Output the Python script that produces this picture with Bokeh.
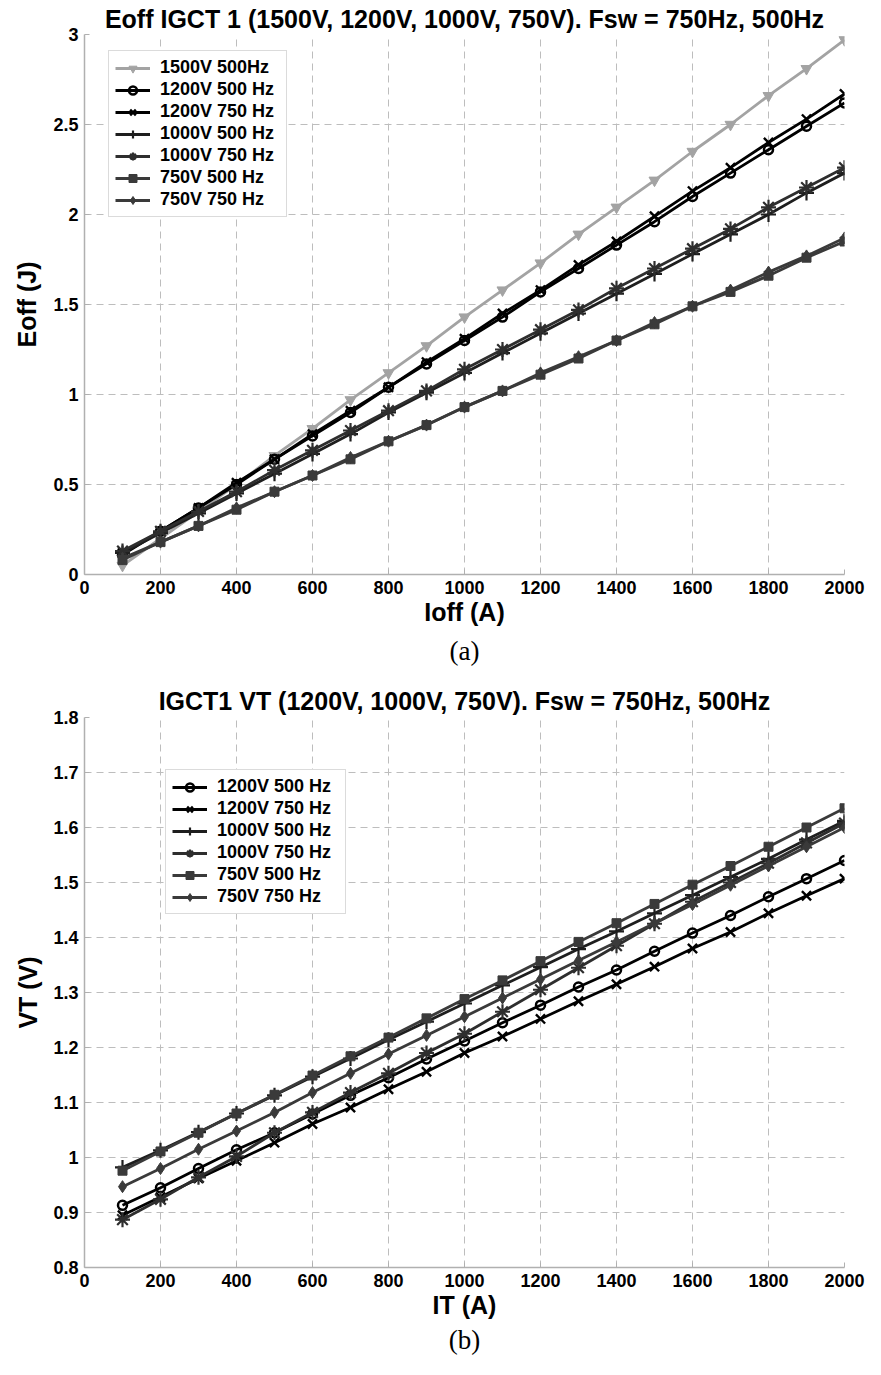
from bokeh.plotting import figure
from bokeh.models import (Range1d, FixedTicker, CustomJSTickFormatter, Legend,
                          LegendItem, Title, ColumnDataSource)
from bokeh.layouts import column
from bokeh.embed import file_html
from bokeh.resources import INLINE

# ---------------- data (a) ----------------
ioff = [100, 200, 300, 400, 500, 600, 700, 800, 900, 1000,
        1100, 1200, 1300, 1400, 1500, 1600, 1700, 1800, 1900, 2000]
eoff_1500_500 = [0.05, 0.20, 0.35, 0.50, 0.66, 0.81, 0.97, 1.12, 1.27, 1.43,
                 1.58, 1.73, 1.89, 2.04, 2.19, 2.35, 2.50, 2.66, 2.81, 2.97]
eoff_1200_500 = [0.11, 0.24, 0.37, 0.50, 0.64, 0.77, 0.90, 1.04, 1.17, 1.30,
                 1.43, 1.57, 1.70, 1.83, 1.96, 2.10, 2.23, 2.36, 2.49, 2.62]
eoff_1200_750 = [0.12, 0.24, 0.37, 0.51, 0.64, 0.78, 0.91, 1.04, 1.18, 1.31,
                 1.45, 1.58, 1.72, 1.85, 1.99, 2.13, 2.26, 2.40, 2.53, 2.67]
eoff_1000_500 = [0.12, 0.23, 0.34, 0.45, 0.56, 0.67, 0.78, 0.90, 1.01, 1.12,
                 1.23, 1.34, 1.45, 1.56, 1.67, 1.78, 1.89, 2.00, 2.12, 2.23]
eoff_1000_750 = [0.13, 0.24, 0.35, 0.46, 0.58, 0.69, 0.80, 0.91, 1.02, 1.14,
                 1.25, 1.36, 1.47, 1.59, 1.70, 1.81, 1.92, 2.04, 2.15, 2.26]
eoff_750_500 = [0.08, 0.18, 0.27, 0.36, 0.46, 0.55, 0.64, 0.74, 0.83, 0.93,
                1.02, 1.11, 1.20, 1.30, 1.39, 1.49, 1.57, 1.66, 1.76, 1.85]
eoff_750_750 = [0.09, 0.18, 0.27, 0.37, 0.46, 0.55, 0.65, 0.74, 0.83, 0.93,
                1.02, 1.12, 1.21, 1.30, 1.40, 1.49, 1.58, 1.68, 1.77, 1.87]

# ---------------- data (b) ----------------
it = ioff
vt_1200_500 = [0.913, 0.945, 0.980, 1.014, 1.045, 1.079, 1.113, 1.145, 1.179, 1.212,
               1.245, 1.277, 1.310, 1.341, 1.375, 1.408, 1.440, 1.474, 1.507, 1.540]
vt_1200_750 = [0.895, 0.928, 0.962, 0.994, 1.027, 1.061, 1.091, 1.124, 1.156, 1.190,
               1.220, 1.252, 1.284, 1.315, 1.347, 1.380, 1.410, 1.444, 1.476, 1.507]
vt_1000_500 = [0.982, 1.013, 1.046, 1.080, 1.113, 1.147, 1.180, 1.214, 1.247, 1.280,
               1.313, 1.346, 1.379, 1.411, 1.444, 1.477, 1.510, 1.543, 1.578, 1.612]
vt_1000_750 = [0.887, 0.924, 0.964, 1.002, 1.045, 1.082, 1.118, 1.153, 1.190, 1.225,
               1.265, 1.305, 1.345, 1.385, 1.425, 1.465, 1.500, 1.535, 1.572, 1.608]
vt_750_500 = [0.976, 1.011, 1.045, 1.080, 1.114, 1.149, 1.184, 1.218, 1.253, 1.288,
              1.322, 1.357, 1.392, 1.426, 1.461, 1.496, 1.530, 1.565, 1.600, 1.635]
vt_750_750 = [0.947, 0.980, 1.015, 1.048, 1.082, 1.118, 1.153, 1.188, 1.222, 1.256,
              1.290, 1.324, 1.358, 1.392, 1.426, 1.460, 1.495, 1.530, 1.565, 1.600]

x_ticks = [0, 200, 400, 600, 800, 1000, 1200, 1400, 1600, 1800, 2000]
ya_ticks = [0, 0.5, 1, 1.5, 2, 2.5, 3]
yb_ticks = [0.8, 0.9, 1.0, 1.1, 1.2, 1.3, 1.4, 1.5, 1.6, 1.7, 1.8]

FONT = "Liberation Sans"
GRID = "#bdbdbd"
AXIS = "#b0b0b0"

# series styles: (label, marker, color, size, marker line width, filled)
STY = {
    "1500_500": ("1500V 500Hz", "inverted_triangle", "#a3a3a3", 11, 1, True),
    "1200_500": ("1200V 500 Hz", "circle", "#000000", 9, 2.5, False),
    "1200_750": ("1200V 750 Hz", "x", "#000000", 13, 2.4, False),
    "1000_500": ("1000V 500 Hz", "cross", "#1e1e1e", 15, 2.2, False),
    "1000_750": ("1000V 750 Hz", "asterisk", "#2e2e2e", 15, 2.2, False),
    "750_500": ("750V 500 Hz", "square", "#3a3a3a", 9, 1, True),
    "750_750": ("750V 750 Hz", "diamond", "#3a3a3a", 12, 1, True),
}


def style_fig(p, xlabel, ylabel, yticks, fmt_code, ylab_standoff):
    p.title.text_font = FONT
    p.title.text_font_style = "bold"
    p.title.text_font_size = "25px"
    p.title.align = "center"
    p.title.text_color = "black"
    p.xaxis.axis_label = xlabel
    p.yaxis.axis_label = ylabel
    p.xaxis.ticker = FixedTicker(ticks=x_ticks)
    p.yaxis.ticker = FixedTicker(ticks=yticks)
    p.xgrid.ticker = FixedTicker(ticks=x_ticks)
    p.ygrid.ticker = FixedTicker(ticks=yticks)
    p.xaxis.formatter = CustomJSTickFormatter(code="return String(Math.round(tick));")
    p.yaxis.formatter = CustomJSTickFormatter(code=fmt_code)
    for ax in (p.xaxis[0], p.yaxis[0]):
        ax.axis_line_color = AXIS
        ax.axis_line_width = 1.5
        ax.major_tick_in = 5
        ax.major_tick_out = 0
        ax.major_tick_line_color = AXIS
        ax.minor_tick_line_color = None
        ax.major_label_text_font = FONT
        ax.major_label_text_font_style = "bold"
        ax.major_label_text_font_size = "18px"
        ax.major_label_text_color = "black"
        ax.major_label_standoff = 6
        ax.axis_label_text_font = FONT
        ax.axis_label_text_font_style = "bold"
        ax.axis_label_text_font_size = "25px"
        ax.axis_label_text_color = "black"
    p.xaxis.axis_label_standoff = 1
    p.yaxis.axis_label_standoff = ylab_standoff
    for g in (p.xgrid[0], p.ygrid[0]):
        g.grid_line_color = GRID
        g.grid_line_dash = "7 5"
        g.grid_line_width = 1


def add_series(p, x, y, key):
    label, marker, color, size, mlw, filled = STY[key]
    src = ColumnDataSource(dict(x=x, y=y))
    r1 = p.line("x", "y", source=src, line_color=color, line_width=2.8)
    r2 = p.scatter("x", "y", source=src, marker=marker, size=size,
                   line_color=color, line_width=mlw,
                   fill_color=color if filled else None,
                   fill_alpha=1.0 if filled else 0.0)
    return LegendItem(label=label, renderers=[r1, r2])


def make_legend(items, loc, label_width):
    lg = Legend(items=items, location=loc)
    lg.label_text_font = FONT
    lg.label_text_font_style = "bold"
    lg.label_text_font_size = "18px"
    lg.label_text_color = "black"
    lg.glyph_width = 35
    lg.glyph_height = 20
    lg.label_height = 20
    lg.label_width = label_width
    lg.label_standoff = 10
    lg.spacing = 1
    lg.padding = 6
    lg.margin = 0
    lg.border_line_color = "#b8b8b8"
    lg.border_line_width = 1
    lg.background_fill_color = "white"
    lg.background_fill_alpha = 1.0
    return lg


def caption(text, standoff):
    return Title(text=text, align="center", text_font="Liberation Serif",
                 text_font_style="normal", text_font_size="27px",
                 text_color="black", standoff=standoff)


# ---------------- figure (a) ----------------
pa = figure(width=865, height=682, x_range=Range1d(0, 2000), y_range=Range1d(0, 3),
            output_backend="svg", toolbar_location=None,
            min_border_left=84, min_border_right=21, min_border_top=33,
            min_border_bottom=108, outline_line_color=None,
            title="Eoff IGCT 1 (1500V, 1200V, 1000V, 750V). Fsw = 750Hz, 500Hz")
pa.title.standoff = 4
style_fig(pa, "Ioff (A)", "Eoff (J)", ya_ticks,
          "return String(Math.round(tick*10)/10);", 9)

items_a = [
    add_series(pa, ioff, eoff_1500_500, "1500_500"),
    add_series(pa, ioff, eoff_1200_500, "1200_500"),
    add_series(pa, ioff, eoff_1200_750, "1200_750"),
    add_series(pa, ioff, eoff_1000_500, "1000_500"),
    add_series(pa, ioff, eoff_1000_750, "1000_750"),
    add_series(pa, ioff, eoff_750_500, "750_500"),
    add_series(pa, ioff, eoff_750_750, "750_750"),
]
pa.add_layout(make_legend(items_a, (24, 357), 120))
pa.add_layout(caption("(a)", 11), "below")

# ---------------- figure (b) ----------------
pb = figure(width=865, height=677, x_range=Range1d(0, 2000), y_range=Range1d(0.8, 1.8),
            output_backend="svg", toolbar_location=None,
            min_border_left=78, min_border_right=13, min_border_top=35,
            min_border_bottom=92, outline_line_color=None,
            title="IGCT1 VT (1200V, 1000V, 750V). Fsw = 750Hz, 500Hz")
pb.title.standoff = 5
style_fig(pb, "IT (A)", "VT (V)", yb_ticks,
          "return String(Math.round(tick*10)/10);", 8)

items_b = [
    add_series(pb, it, vt_1200_500, "1200_500"),
    add_series(pb, it, vt_1200_750, "1200_750"),
    add_series(pb, it, vt_1000_500, "1000_500"),
    add_series(pb, it, vt_1000_750, "1000_750"),
    add_series(pb, it, vt_750_500, "750_500"),
    add_series(pb, it, vt_750_750, "750_750"),
]
pb.add_layout(make_legend(items_b, (81, 353), 122))
pb.add_layout(caption("(b)", 2), "below")

layout = column(pa, pb, spacing=0)
open("out.html", "w").write(file_html(layout, INLINE))
